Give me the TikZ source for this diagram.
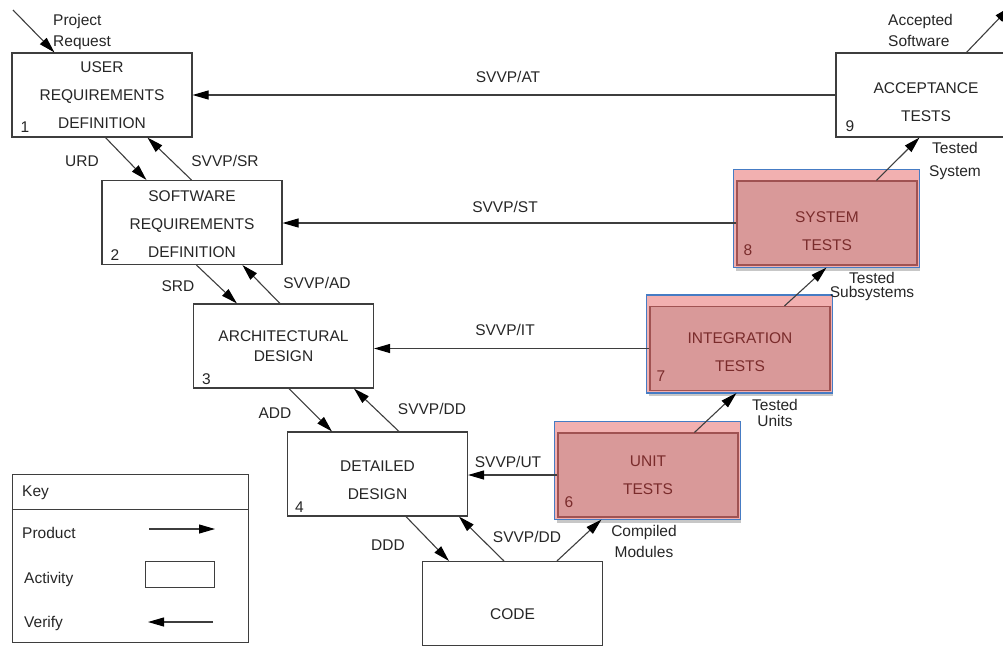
\documentclass[tikz,border=0pt]{standalone}
\usepackage{fontspec}
\setmainfont{Liberation Sans}
\usetikzlibrary{arrows.meta, positioning, calc, backgrounds}
\definecolor{tstfill}{RGB}{217,153,153}
\definecolor{tstlight}{RGB}{242,176,176}
\definecolor{tstedge}{RGB}{160,82,82}
\definecolor{tstframe}{RGB}{70,124,196}
\definecolor{tsttext}{RGB}{122,44,44}
\definecolor{ink}{RGB}{62,62,62}
\newcommand{\vpad}[1]{\rule{0pt}{#1}}
\tikzset{
    act/.style  = {draw=ink, fill=white, line width=1.1pt, minimum width=180pt, minimum height=84pt,
                   align=center, inner sep=0pt, font=\fontsize{15.5}{28}\selectfont, text=black!85},
    tst/.style  = {act, fill=tstfill, draw=tstedge, text=tsttext},
    frm/.style  = {draw=tstframe, line width=1.8pt},
    num/.style  = {anchor=base west, inner sep=0pt, font=\fontsize{15.5}{18}\selectfont, text=black!85},
    lbl/.style  = {inner sep=0pt, align=center, font=\fontsize{15.5}{21}\selectfont, text=black!85},
    arr/.style  = {-{Triangle[length=16pt,width=9pt,color=black]}, line width=1.1pt, ink},
}
\begin{document}
\begin{tikzpicture}[x=1pt, y=-1pt]
    \useasboundingbox (0,0) rectangle (1003,646);
    \clip (0,0) rectangle (1003,646);
    % left branch of the V
    \node[act] (b1) at (102,95) {USER\\REQUIREMENTS\\DEFINITION};
    \node[act] (b2) at (192,222.5) {\vpad{15pt}SOFTWARE\\REQUIREMENTS\\DEFINITION};
    \node[act] (b3) at (283.5,346) {ARCHITECTURAL\\[-8pt]DESIGN};
    \node[act] (b4) at (377.5,474) {\vpad{24pt}DETAILED\\DESIGN};
    \node[act] (code) at (512.5,603.5) {\vpad{32pt}CODE};
    % right branch
    \node[tst] (b6) at (648,475) {UNIT\\TESTS};
    \node[tst] (b7) at (740,348.5) {\vpad{18pt}INTEGRATION\\TESTS};
    \node[tst] (b8) at (827,223) {\vpad{28pt}SYSTEM\\TESTS};
    \node[act] (b9) at (926,95) {\vpad{26pt}ACCEPTANCE\\TESTS};
    \begin{scope}[on background layer]
        \foreach \bx in {b6,b7,b8} {
            \fill[black!22] ([shift={(0,2)}]\bx.south west) rectangle ([shift={(2,5)}]\bx.south east);
            \fill[tstlight] ([shift={(-3,2)}]\bx.south west) rectangle ([shift={(2,-11)}]\bx.north east);
        }
    \end{scope}
    \draw[frm] ([shift={(-3,2)}]b6.south west) rectangle ([shift={(2,-11)}]b6.north east);
    \draw[frm] ([shift={(-3,2)}]b7.south west) rectangle ([shift={(2,-11)}]b7.north east);
    \draw[frm] ([shift={(-3,2)}]b8.south west) rectangle ([shift={(2,-11)}]b8.north east);

    \node[num] (n1) at ([shift={(9,-5)}]b1.south west) {1};
    \node[num] (n2) at ([shift={(9,-5)}]b2.south west) {2};
    \node[num] (n3) at ([shift={(9,-4)}]b3.south west) {3};
    \node[num] (n4) at ([shift={(8,-4)}]b4.south west) {4};
    \node[num, text=tsttext] (n6) at ([shift={(7,-10)}]b6.south west) {6};
    \node[num, text=tsttext] (n7) at ([shift={(7,-10)}]b7.south west) {7};
    \node[num, text=tsttext] (n8) at ([shift={(7,-10)}]b8.south west) {8};
    \node[num] (n9) at ([shift={(10,-6)}]b9.south west) {9};

    % products going down and up the V
    \coordinate (pr) at (13,10);
    \coordinate (acc) at (1010,7);
    \draw[arr] (pr) -- ([xshift=43pt]b1.north west);
    \draw[arr] ([xshift=94pt]b1.south west) -- ([xshift=45pt]b2.north west);
    \draw[arr] ([xshift=95pt]b2.south west) -- ([xshift=44pt]b3.north west);
    \draw[arr] ([xshift=96pt]b3.south west) -- ([xshift=45pt]b4.north west);
    \draw[arr] ([xshift=119pt]b4.south west) -- ([xshift=27pt]code.north west);
    \draw[arr] ([xshift=135pt]code.north west) -- ([shift={(44,2)}]b6.south west);
    \draw[arr] ([xshift=137pt]b6.north west) -- ([shift={(87,2)}]b7.south west);
    \draw[arr] ([xshift=135pt]b7.north west) -- ([shift={(90,2)}]b8.south west);
    \draw[arr] ([xshift=140pt]b8.north west) -- ([xshift=84pt]b9.south west);
    \draw[arr] ([xshift=131pt]b9.north west) -- (acc);

    % verification
    \draw[arr] ([xshift=90pt]b2.north west) -- ([xshift=136pt]b1.south west);
    \draw[arr] ([xshift=87pt]b3.north west) -- ([xshift=141pt]b2.south west);
    \draw[arr] ([xshift=112pt]b4.north west) -- ([xshift=161pt]b3.south west);
    \draw[arr] ([xshift=82pt]code.north west) -- ([xshift=172pt]b4.south west);
    \draw[arr] (b9.west) -- (b1.east);
    \draw[arr] (b8.west) -- (b8.west -| b2.east);
    \draw[arr] (b7.west) -- (b7.west -| b3.east);
    \draw[arr] (b6.west) -- (b6.west -| b4.east);

    \node[lbl, align=left, anchor=north west] (lPR) at (53,14) {Project\\Request};
    \node[lbl, align=left, anchor=north west] (lAS) at (888,14) {Accepted\\Software};
    \node[lbl] (lURD) at (82,161) {URD};
    \node[lbl] (lSR) at (225,161) {SVVP/SR};
    \node[lbl] (lSRD) at (178,286) {SRD};
    \node[lbl] (lAD) at (317,283) {SVVP/AD};
    \node[lbl] (lADD) at (275,413) {ADD};
    \node[lbl] (lDD) at (432,409) {SVVP/DD};
    \node[lbl] (lDDD) at (388,545) {DDD};
    \node[lbl] (lDD2) at (527,537) {SVVP/DD};
    \node[lbl] (lAT) at (508,77) {SVVP/AT};
    \node[lbl] (lST) at (505,207) {SVVP/ST};
    \node[lbl] (lIT) at (505,330) {SVVP/IT};
    \node[lbl] (lUT) at (508,462) {SVVP/UT};
    \node[lbl] (lCM) at (644,541) {Compiled\\Modules};
    \node[lbl] (lTU) at (775,413) {Tested\\[-5pt]Units};
    \node[lbl] (lTSS) at (872,286) {Tested\\[-7pt]Subsystems};
    \node[lbl] (lTS) at (955,161) {Tested\\[2pt]System};

    % key
    \node[draw=ink, line width=1pt, minimum width=236pt, minimum height=168pt] (key) at (130,558) {};
    \draw[ink, line width=1pt] ([yshift=-36pt]key.north west) -- ([yshift=-36pt]key.north east);
    \node[lbl, anchor=west] (kKey) at (22,493) {Key};
    \node[lbl, anchor=west] (kProd) at (22,533) {Product};
    \node[lbl, anchor=west] (kAct) at (24,579) {Activity};
    \node[lbl, anchor=west] (kVer) at (24,623) {Verify};
    \coordinate (kp1) at (149,529);
    \coordinate (kp2) at (215,529);
    \coordinate (kv1) at (213,622);
    \coordinate (kv2) at (148,622);
    \draw[arr] (kp1) -- (kp2);
    \node[draw=ink, line width=1pt, minimum width=69pt, minimum height=26pt] (kBox) at (179.5,574) {};
    \draw[arr] (kv1) -- (kv2);
\end{tikzpicture}
\end{document}
